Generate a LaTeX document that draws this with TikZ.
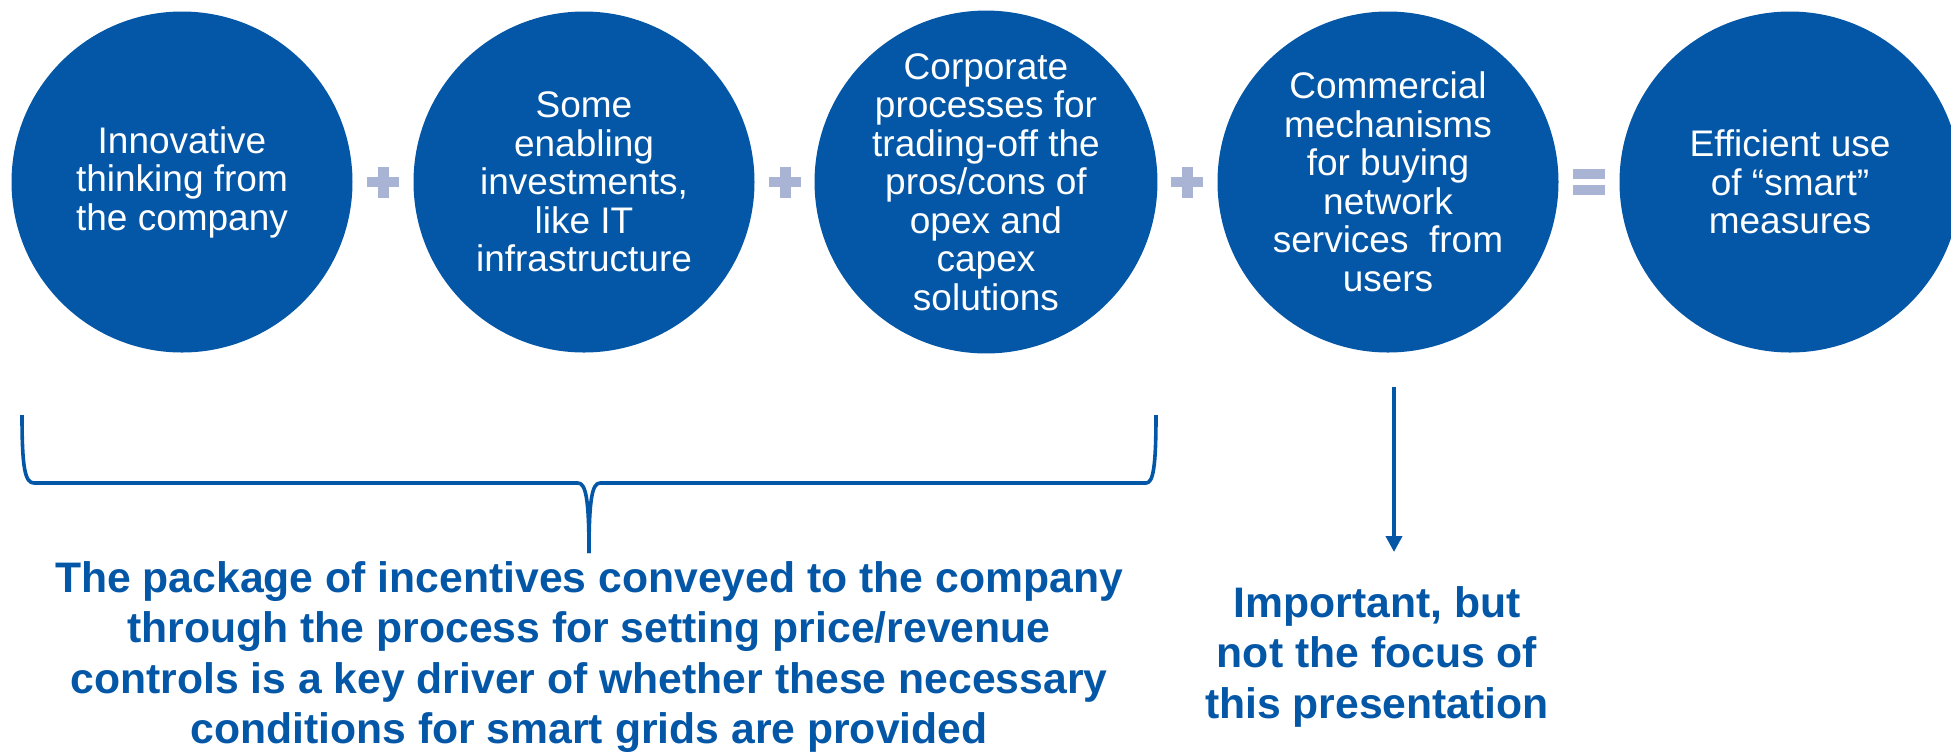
\documentclass[tikz,border=0pt]{standalone}
\usepackage{fontspec}
\setmainfont{Liberation Sans}
\usetikzlibrary{arrows.meta}
\definecolor{cblue}{HTML}{0457A7}
\definecolor{opgrey}{HTML}{A9B3D4}
\begin{document}
\begin{tikzpicture}[x=0.5pt,y=-0.5pt,
  bubble/.style={circle,fill=cblue,text=white,minimum size=170.5pt,inner sep=0pt,align=center,
    font=\fontsize{18.5pt}{19.25pt}\selectfont},
  note/.style={text=cblue,align=center,inner sep=0pt,anchor=north,
    font=\bfseries\fontsize{21.35pt}{25.25pt}\selectfont},
  bracketline/.style={draw=cblue,line width=1.8pt,line join=round},
  arrowline/.style={draw=cblue,line width=1.9pt,-{Triangle[width=8pt,length=8pt]}},
  plussign/.pic={\fill[opgrey] (-16,-5) rectangle (16,5);
                 \fill[opgrey] (-5.5,-15.5) rectangle (5.5,15.5);},
  equalsign/.pic={\fill[opgrey] (-16,-12.7) rectangle (16,-2.7);
                  \fill[opgrey] (-16,3) rectangle (16,12.7);}]
\useasboundingbox (0,0) rectangle (1951,752);
\clip (0,0) rectangle (1951,752);

\node[bubble] (c1) at (182,182) {Innovative\\thinking from\\the company};
\node[bubble] (c2) at (584,182) {Some\\enabling\\investments,\\like IT\\infrastructure};
\node[bubble] (c3) at (986,182) {Corporate\\processes for\\trading-off the\\pros/cons of\\opex and\\capex\\solutions};
\node[bubble] (c4) at (1388,182) {Commercial\\mechanisms\\for buying\\network\\services\ \ from\\users};
\node[bubble] (c5) at (1790,182) {Efficient use\\of “smart”\\measures};

\pic at (383,182) {plussign};
\pic at (785,182) {plussign};
\pic at (1187,182) {plussign};
\pic at (1589,182) {equalsign};

% brace under the first three circles
\coordinate (bl) at (22,415);
\coordinate (br) at (1156,415);
\coordinate (tip) at (589,553);
\draw[bracketline] (bl) .. controls (22,468) and (25,483) .. (34,483) -- (578,483)
   .. controls (586,483) and (589,500) .. (tip);
\draw[bracketline] (tip) .. controls (589,500) and (592,483) .. (600,483) -- (1146,483)
   .. controls (1153,483) and (1156,468) .. (br);

\node[note] (pkg) at (589,561) {The package of incentives conveyed to the company\\through the process for setting price/revenue\\controls is a key driver of whether these necessary\\conditions for smart grids are provided};

\coordinate (atop) at (1394,387);
\coordinate (abot) at (1394,552);
\draw[arrowline] (atop) -- (abot);

\node[note] (imp) at (1377,586) {Important, but\\not the focus of\\this presentation};
\end{tikzpicture}
\end{document}
